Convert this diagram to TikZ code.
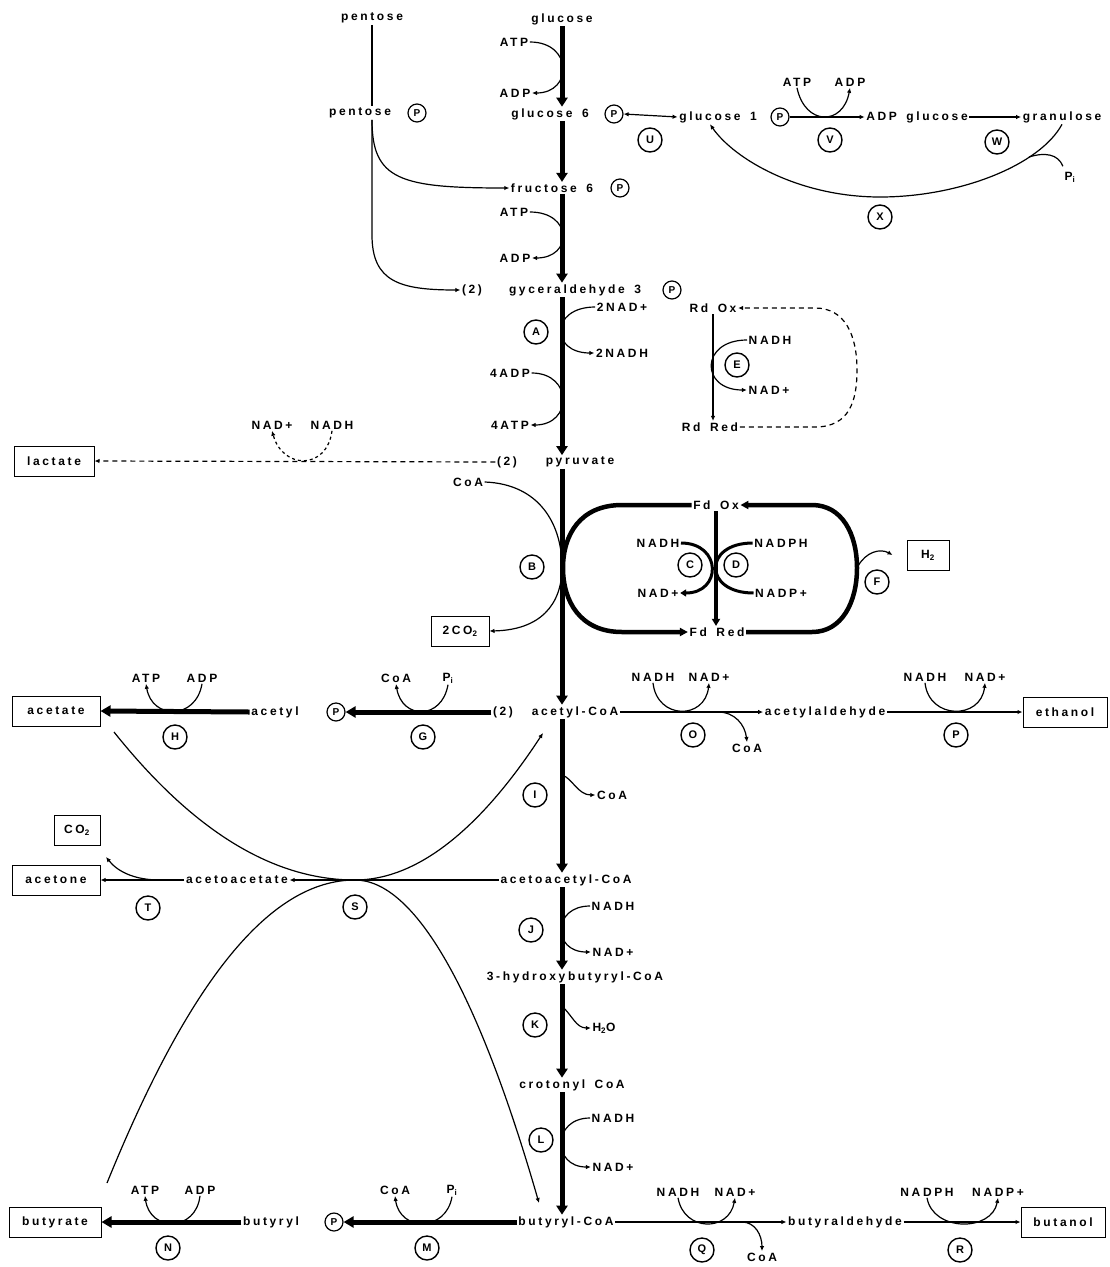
\documentclass[tikz,border=0pt]{standalone}
\usepackage{fontspec}
\setmainfont[LetterSpace=22,WordSpace=1.6]{Liberation Sans}
\usetikzlibrary{arrows.meta}
\begin{document}
\begin{tikzpicture}[x=1pt,y=-1pt,
 every node/.style={font=\fontsize{12}{14}\selectfont\bfseries,inner sep=1.5pt},
 enz/.style={circle,draw,line width=1.4pt,minimum size=24pt,inner sep=0pt,font=\fontsize{11}{12}\selectfont\bfseries},
 ph/.style={circle,draw,line width=1.2pt,minimum size=18pt,inner sep=0pt,font=\fontsize{10}{11}\selectfont\bfseries},
 mbox/.style={draw,line width=1pt,minimum height=30pt,inner sep=4pt},
 mainarrow/.style={line width=5pt,-{Triangle[length=9pt,width=11pt]}},
 hthick/.style={line width=5pt,-{Triangle[length=10pt,width=11pt]}},
 arr/.style={line width=1.2pt,-{Latex[length=5pt,width=4.5pt]}},
 ln/.style={line width=1.2pt},
 dsh/.style={line width=1.2pt,dash pattern=on 5pt off 4pt},
]
\fill[white] (0,0) rectangle (1110,1267);
\useasboundingbox (0,0) rectangle (1110,1267);

% ---- top
\node (pen1) at (372,18) {pentose};
\node (pen2) at (360,113) {pentose};
\node[ph] (pen2P) at (417,113) {P};
\node (glc) at (562,19) {glucose};
\node (atp1) at (514,42) {ATP};
\node (adp1) at (515,93) {ADP};
\node (g6) at (550,114) {glucose 6};
\node[ph] (g6P) at (614,114) {P};
\node[enz] (U) at (650,140) {U};
\node (g1) at (718,117) {glucose 1};
\node[ph] (g1P) at (780,117) {P};
\node (atpV) at (797,82) {ATP};
\node (adpV) at (850,82) {ADP};
\node[enz] (V) at (830,140) {V};
\node (adpg) at (917,117) {ADP glucose};
\node[enz] (W) at (997,142) {W};
\node (gran) at (1062,117) {granulose};
\node (PiX) at (1070,177) {P\textsubscript{i}};
\node[enz] (X) at (880,217) {X};
\node (f6) at (552,188) {fructose 6};
\node[ph] (f6P) at (620,188) {P};
\node (atp2) at (514,212) {ATP};
\node (adp2) at (515,258) {ADP};
\node (gap2) at (472,290) {(2)};
\node (gap) at (575,290) {gyceraldehyde 3};
\node[ph] (gapP) at (672,290) {P};
\node[enz] (A) at (536,332) {A};
\node (nad1) at (622,307) {2NAD+};
\node (nadh1) at (622,353) {2NADH};
\node (adp3) at (510,373) {4ADP};
\node (atp3) at (510,425) {4ATP};
\node (pyr2) at (507,462) {(2)};
\node (pyr) at (580,462) {pyruvate};
\node[mbox,minimum width=80pt] (lact) at (54,461) {lactate};
\node (nadLa) at (272,425) {NAD+};
\node (nadhLa) at (332,425) {NADH};
\node (RdOx) at (713,308) {Rd Ox};
\node (RdRed) at (710,427) {Rd Red};
\node[enz] (E) at (737,365) {E};
\node (nadhE) at (770,340) {NADH};
\node (nadE) at (769,390) {NAD+};
\node (coaB) at (468,482) {CoA};
\node[enz] (B) at (532,567) {B};
\node[mbox,minimum width=58pt] (co2B) at (460,631) {2CO\textsubscript{2}};
\node (FdOx) at (716,505) {Fd Ox};
\node (FdRed) at (717,632) {Fd Red};
\node[enz] (C) at (690,565) {C};
\node[enz] (D) at (736,565) {D};
\node (nadhC) at (658,543) {NADH};
\node (nadC) at (658,593) {NAD+};
\node (nadphD) at (781,543) {NADPH};
\node (nadpD) at (781,593) {NADP+};
\node[enz] (F) at (877,582) {F};
\node[mbox,minimum width=42pt] (H2) at (928,555) {H\textsubscript{2}};

% ---- acetyl-CoA row
\node[mbox,minimum width=88pt] (acetate) at (56,711) {acetate};
\node[enz] (H) at (175,737) {H};
\node (atpH) at (146,678) {ATP};
\node (adpH) at (202,678) {ADP};
\node (acetyl) at (275,712) {acetyl};
\node[ph] (acP) at (336,712) {P};
\node[enz] (G) at (423,737) {G};
\node (coaG) at (396,678) {CoA};
\node (piG) at (448,678) {P\textsubscript{i}};
\node (accoa2) at (503,712) {(2)};
\node (accoa) at (575,712) {acetyl-CoA};
\node[enz] (O) at (693,735) {O};
\node (nadhO) at (653,677) {NADH};
\node (nadO) at (709,677) {NAD+};
\node (coaO) at (747,748) {CoA};
\node (acald) at (825,712) {acetylaldehyde};
\node[enz] (Penz) at (956,735) {P};
\node (nadhP) at (925,677) {NADH};
\node (nadP) at (985,677) {NAD+};
\node[mbox,minimum width=84pt] (eth) at (1065,712) {ethanol};
\node[enz] (I) at (535,795) {I};
\node (coaI) at (612,795) {CoA};

% ---- acetoacetyl row
\node[mbox,minimum width=46pt] (co2T) at (77,830) {CO\textsubscript{2}};
\node[mbox,minimum width=88pt] (acetone) at (56,880) {acetone};
\node[enz] (T) at (148,908) {T};
\node (acac) at (237,880) {acetoacetate};
\node[enz] (S) at (355,907) {S};
\node (acacoa) at (566,880) {acetoacetyl-CoA};
\node[enz] (J) at (531,930) {J};
\node (nadhJ) at (613,906) {NADH};
\node (nadJ) at (613,952) {NAD+};
\node (hbcoa) at (575,977) {3-hydroxybutyryl-CoA};
\node[enz] (K) at (535,1025) {K};
\node (h2o) at (604,1028) {H\textsubscript{2}O};
\node (croto) at (572,1085) {crotonyl CoA};
\node[enz] (L) at (541,1140) {L};
\node (nadhL) at (613,1118) {NADH};
\node (nadL) at (613,1167) {NAD+};

% ---- butyryl row
\node (bucoa) at (566,1222) {butyryl-CoA};
\node[mbox,minimum width=92pt] (butyrate) at (55,1222) {butyrate};
\node[enz] (N) at (168,1248) {N};
\node (atpN) at (145,1190) {ATP};
\node (adpN) at (200,1190) {ADP};
\node (butyryl) at (271,1222) {butyryl};
\node[ph] (buP) at (334,1222) {P};
\node[enz] (M) at (427,1248) {M};
\node (coaM) at (395,1190) {CoA};
\node (piM) at (452,1190) {P\textsubscript{i}};
\node[enz] (Q) at (702,1250) {Q};
\node (nadhQ) at (678,1192) {NADH};
\node (nadQ) at (735,1192) {NAD+};
\node (coaQ) at (762,1257) {CoA};
\node (bual) at (845,1222) {butyraldehyde};
\node[enz] (R) at (960,1250) {R};
\node (nadphR) at (927,1192) {NADPH};
\node (nadpR) at (998,1192) {NADP+};
\node[mbox,minimum width=84pt] (butanol) at (1063,1222) {butanol};

% ---- coordinates for free ends
\coordinate (xb) at (1029,157);
\coordinate (fo) at (858,566);
\coordinate (ob) at (718,712);
\coordinate (ib) at (562,775);
\coordinate (tb) at (160,880);
\coordinate (co2t) at (106,857);
\coordinate (sv) at (355,880);
\coordinate (ab) at (114,732);
\coordinate (ae) at (543,733);
\coordinate (bb) at (107,1183);
\coordinate (be) at (539,1203);
\coordinate (qb) at (742,1222);

% ---- main chain
\draw[mainarrow] (glc.south) -- (glc.south |- g6.north);
\draw[mainarrow] (glc.south |- g6.south) -- (glc.south |- f6.north);
\draw[mainarrow] (glc.south |- f6.south) -- (glc.south |- gap.north);
\draw[mainarrow] (glc.south |- gap.south) -- (glc.south |- pyr.north);
\draw[mainarrow] (glc.south |- pyr.south) -- (glc.south |- accoa.north);
\draw[mainarrow] (glc.south |- accoa.south) -- (glc.south |- acacoa.north);
\draw[mainarrow] (glc.south |- acacoa.south) -- (glc.south |- hbcoa.north);
\draw[mainarrow] (glc.south |- hbcoa.south) -- (glc.south |- croto.north);
\draw[mainarrow] (glc.south |- croto.south) -- (glc.south |- bucoa.north);

% ---- cofactor arcs on main chain
\draw[arr] (atp1.east) .. controls (573,42) and (573,93) .. (adp1.east);
\draw[arr] (atp2.east) .. controls (573,212) and (573,258) .. (adp2.east);
\draw[arr] (nad1.west) .. controls (550,307) and (550,353) .. (nadh1.west);
\draw[arr] (adp3.east) .. controls (573,373) and (573,425) .. (atp3.east);
\draw[arr] (ib) .. controls (572,778) and (578,795) .. (coaI.west);
\draw[arr] (nadhJ.west) .. controls (552,906) and (552,952) .. (nadJ.west);
\draw[arr] (glc.south |- hbcoa.south) ++(0,22) .. controls (572,1015) and (576,1028) .. (h2o.west);
\draw[arr] (nadhL.west) .. controls (552,1118) and (552,1167) .. (nadL.west);

% ---- pentose
\draw[ln] (pen1.south) -- (pen1.south |- pen2.north);
\draw[arr] (pen1.south |- pen2.south) .. controls (372,180) and (400,188) .. (f6.west);
\draw[arr] (pen1.south |- pen2.south) -- (372,235) .. controls (372,282) and (400,290) .. (gap2.west);

% ---- glycogen branch
\draw[line width=1.2pt,{Latex[length=5pt,width=4.5pt]}-{Latex[length=5pt,width=4.5pt]}] (g6P.east) -- (g1.west);
\draw[arr] (g1P.east) -- (adpg.west);
\draw[arr] (atpV.south) .. controls (805,126) and (843,126) .. (adpV.south);
\draw[arr] (adpg.east) -- (gran.west);
\draw[arr] (gran.south) .. controls (1040,165) and (960,197) .. (880,197) .. controls (800,197) and (735,160) .. ([xshift=-8pt]g1.south);
\draw[ln] (xb) .. controls (1045,152) and (1058,154) .. ([yshift=4pt]PiX.north west);

% ---- Rd cycle
\draw[arr] (RdOx.south) -- (RdOx.south |- RdRed.north);
\draw[arr] (nadhE.west) .. controls (700,340) and (700,390) .. (nadE.west);
\draw[dsh,-{Latex[length=5pt,width=4.5pt]}] (RdRed.east) -- (815,427) .. controls (850,427) and (857,400) .. (857,370) .. controls (857,335) and (845,308) .. (815,308) -- (RdOx.east);

% ---- lactate
\draw[dsh,-{Latex[length=5pt,width=4.5pt]}] (pyr2.west) -- (lact.east);
\draw[line width=1.2pt,dash pattern=on 3pt off 3pt,-{Latex[length=5pt,width=4.5pt]}] (nadhLa.south) .. controls (327,470) and (283,470) .. (nadLa.south);

% ---- B and Fd
\draw[arr] (coaB.east) .. controls (540,484) and (562,525) .. (562,567) .. controls (562,605) and (540,630) .. (co2B.east);
\draw[line width=4.5pt,-{Triangle[length=8pt,width=8pt]}] (FdOx.west) -- (622,505) .. controls (580,505) and (563,535) .. (563,568) .. controls (563,601) and (580,632) .. (622,632) -- (FdRed.west);
\draw[line width=4.5pt,-{Triangle[length=8pt,width=8pt]}] (FdRed.east) -- (812,632) .. controls (842,632) and (857,602) .. (857,568) .. controls (857,534) and (842,505) .. (812,505) -- (FdOx.east);
\draw[line width=3.5pt,-{Triangle[length=7pt,width=8pt]}] (FdOx.south) -- (FdOx.south |- FdRed.north);
\draw[line width=3pt,-{Triangle[length=6pt,width=7pt]}] (nadhC.east) .. controls (722,543) and (722,593) .. (nadC.east);
\draw[line width=3pt] (nadphD.west) .. controls (703,543) and (703,593) .. (nadpD.west);
\draw[arr] (fo) .. controls (866,552) and (880,548) .. ([xshift=-14pt]H2.west);

% ---- acetyl-CoA row
\draw[hthick] (acetyl.west) -- (acetate.east);
\draw[arr] (adpH.south) .. controls (196,720) and (152,720) .. (atpH.south);
\draw[hthick] (accoa2.west) -- (acP.east);
\draw[arr] (piG.south) .. controls (442,720) and (402,720) .. (coaG.south);
\draw[arr] (accoa.east) -- (acald.west);
\draw[arr] (nadhO.south) .. controls (657,720) and (705,720) .. (nadO.south);
\draw[arr] (ob) .. controls (735,712) and (745,725) .. (coaO.north);
\draw[arr] (acald.east) -- (eth.west);
\draw[arr] (nadhP.south) .. controls (929,720) and (981,720) .. (nadP.south);

% ---- acetoacetate / acetone
\draw[arr] (acacoa.west) -- (acac.east);
\draw[arr] (acac.west) -- (acetone.east);
\draw[arr] (tb) .. controls (135,880) and (118,872) .. (co2t);
\draw[arr] (ab) .. controls (193,831) and (273,880) .. (sv) .. controls (416,880) and (479,831) .. (ae);
\draw[arr] (bb) .. controls (189,981) and (270,880) .. (sv) .. controls (414,880) and (477,988) .. (be);

% ---- butyryl row
\draw[hthick] (bucoa.west) -- (buP.east);
\draw[arr] (piM.south) .. controls (446,1232) and (400,1232) .. (coaM.south);
\draw[hthick] (butyryl.west) -- (butyrate.east);
\draw[arr] (adpN.south) .. controls (196,1232) and (150,1232) .. (atpN.south);
\draw[arr] (bucoa.east) -- (bual.west);
\draw[arr] (nadhQ.south) .. controls (684,1232) and (729,1232) .. (nadQ.south);
\draw[arr] (qb) .. controls (755,1222) and (762,1235) .. (coaQ.north);
\draw[arr] (bual.east) -- (butanol.west);
\draw[arr] (nadphR.south) .. controls (933,1232) and (992,1232) .. (nadpR.south);
\end{tikzpicture}
\end{document}
